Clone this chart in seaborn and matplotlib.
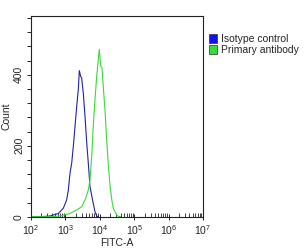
import numpy as np
import pandas as pd
import matplotlib
matplotlib.use("Agg")
import matplotlib.pyplot as plt
import seaborn as sns
from matplotlib.ticker import FixedLocator, MultipleLocator, LogLocator, NullFormatter
from matplotlib.patches import Patch

sns.set_style("white")
plt.rcParams['font.family'] = ['Liberation Sans', 'DejaVu Sans']

# Isotype control histogram (FITC-A intensity, count)
iso_x = [100, 200, 356, 624, 871, 1086, 1216, 1361, 1524, 1698, 1905, 2128, 2371,
         2541, 2780, 2972, 3311, 3715, 4169, 4634, 5188, 6166, 7244, 8128, 9000]
iso_y = [0, 0, 2, 9, 24, 47, 75, 123, 151, 198, 255, 311, 358,
         412, 396, 391, 349, 283, 208, 151, 85, 47, 14, 2, 0]

# Primary antibody histogram
pri_x = [100, 400, 697, 1361, 2128, 2972, 3715, 4634, 5188, 5821, 6457, 7244, 8128,
         9036, 9660, 10617, 11588, 12589, 14125, 15849, 17783, 19953, 22387, 24547,
         30903, 34674, 40000]
pri_y = [0, 0, 2, 9, 19, 28, 47, 75, 104, 170, 255, 330, 396,
         443, 472, 425, 420, 368, 302, 217, 142, 85, 47, 24,
         5, 1, 0]

series_names = ["Isotype control", "Primary antibody"]
series_colors = ["#2222a8", "#3ada3a"]
patch_colors = ["#1010f0", "#33dd33"]

df = pd.concat([
    pd.DataFrame({"FITC-A": iso_x, "Count": iso_y, "Sample": series_names[0]}),
    pd.DataFrame({"FITC-A": pri_x, "Count": pri_y, "Sample": series_names[1]}),
])

fig = plt.figure(figsize=(3.05, 2.5), dpi=100)
ax = fig.add_axes([31/305, 1-216.7/250, (203-31)/305, (216.7-16)/250])

sns.lineplot(data=df, x="FITC-A", y="Count", hue="Sample",
             palette=dict(zip(series_names, series_colors)),
             linewidth=0.8, legend=False, ax=ax, sort=False, estimator=None)

ax.set_xscale("log")
ax.set_xlim(1e2, 1e7)
ax.set_ylim(0, 566)

ax.yaxis.set_major_locator(FixedLocator([0, 200, 400]))
ax.yaxis.set_minor_locator(MultipleLocator(40))
ax.set_yticklabels(["0", "200", "400"], rotation=90, va="center")
ax.tick_params(axis="y", which="both", direction="out", length=3, width=0.7, labelsize=7.5, pad=2, left=True)

ax.xaxis.set_major_locator(LogLocator(base=10, numticks=10))
ax.xaxis.set_minor_locator(LogLocator(base=10, subs=np.arange(2, 10), numticks=20))
ax.xaxis.set_minor_formatter(NullFormatter())
ax.tick_params(axis="x", which="major", direction="inout", length=5, width=0.7, labelsize=7.5, pad=2, bottom=True)
ax.tick_params(axis="x", which="minor", direction="in", length=3, width=0.6, bottom=True)

for s in ax.spines.values():
    s.set_color("#222222")
    s.set_linewidth(0.8)

ax.set_xlabel("FITC-A", fontsize=7.5, labelpad=1)
ax.set_ylabel("Count", fontsize=7.5, labelpad=2)

handles = [Patch(facecolor=c, edgecolor="#333333", linewidth=0.5) for c in patch_colors]
ax.legend(handles, series_names, loc="upper left", bbox_to_anchor=(1.035, 0.91),
          frameon=False, fontsize=7.5, handlelength=0.8, handleheight=0.9,
          handletextpad=0.35, labelspacing=0.1, borderaxespad=0, borderpad=0)

fig.savefig("out.png", dpi=100)
